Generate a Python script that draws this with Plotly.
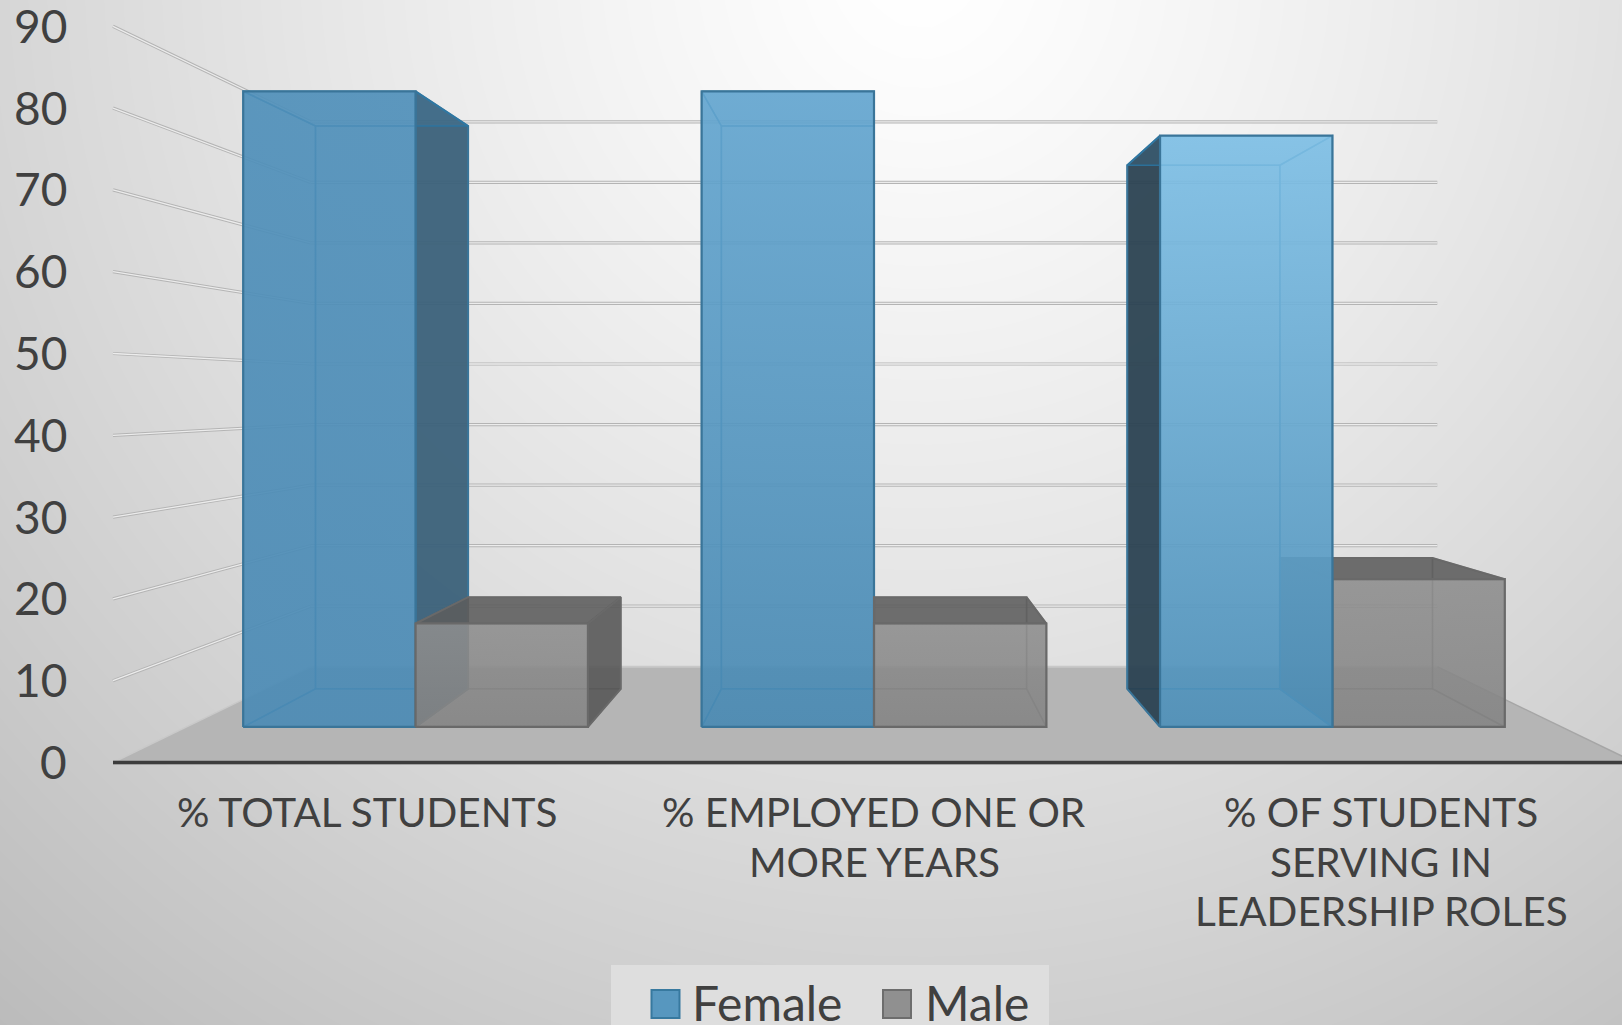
import numpy as np
import plotly.graph_objects as go

# Values
categories = [
    ["% TOTAL STUDENTS"],
    ["% EMPLOYED ONE OR", "MORE YEARS"],
    ["% OF STUDENTS", "SERVING IN", "LEADERSHIP ROLES"],
]
female = [86, 86, 80]
male = [14, 14, 20]
y_ticks = [0, 10, 20, 30, 40, 50, 60, 70, 80, 90]

# Front-top / bottom colour of each female front face (the light falls from the upper right)
female_top = ["#5090ba", "#64a6d0", "#7fc0e6"]
female_bottom = ["#4c8bb5", "#4a8ab3", "#4e90b9"]

# Perspective set-up, in page pixels
W, H = 1622, 1025
CX, HY = 874, 394
HALF = 761
ZERO = 368.5
SCALE = 8.18
DEPTH = 0.351
BAR_FRONT, BAR_BACK = 0.304, 0.712
BAR_W = 0.376 * 2 / 3
FONT = "Lato"
TEXT = "#404040"


def project(u, v, f):
    k = 1 / (1 + DEPTH * f)
    return CX + u * HALF * k, HY + (ZERO - SCALE * v) * k


def poly(points, fill=None, line=None, width=1.5, gradient=None):
    xs, ys = zip(*[project(*p) for p in points])
    kw = dict(x=list(xs) + [xs[0]], y=list(ys) + [ys[0]], mode="lines",
              hoverinfo="skip", showlegend=False, fill="toself")
    kw["line"] = dict(color=line or "rgba(0,0,0,0)", width=width if line else 0)
    if gradient:
        kw["fillgradient"] = dict(type="vertical", colorscale=[[0, gradient[0]], [1, gradient[1]]],
                                  start=min(ys), stop=max(ys))
    else:
        kw["fillcolor"] = fill or "rgba(0,0,0,0)"
    fig.add_trace(go.Scatter(**kw))


def segment(p0, p1, color, width):
    x0, y0 = project(*p0)
    x1, y1 = project(*p1)
    fig.add_trace(go.Scatter(x=[x0, x1], y=[y0, y1], mode="lines", hoverinfo="skip",
                             showlegend=False, line=dict(color=color, width=width)))


def box(u0, u1, v, st):
    f0, f1 = BAR_FRONT, BAR_BACK
    faces = {
        "back": [(u0, 0, f1), (u1, 0, f1), (u1, v, f1), (u0, v, f1)],
        "bottom": [(u0, 0, f0), (u1, 0, f0), (u1, 0, f1), (u0, 0, f1)],
        "top": [(u0, v, f0), (u1, v, f0), (u1, v, f1), (u0, v, f1)],
        "left": [(u0, 0, f0), (u0, v, f0), (u0, v, f1), (u0, 0, f1)],
        "right": [(u1, 0, f0), (u1, v, f0), (u1, v, f1), (u1, 0, f1)],
        "front": [(u0, 0, f0), (u1, 0, f0), (u1, v, f0), (u0, v, f0)],
    }
    outer_top = ZERO - SCALE * v > 0
    outer_left = u0 > 0.001
    outer_right = u1 < -0.001
    poly(faces["back"], st["inner"], st["inner_line"])
    poly(faces["bottom"], st["inner"], st["inner_line"])
    if not outer_left and abs(u0) > 0.001:
        poly(faces["left"], st["inner"], st["inner_line"])
    if not outer_right and abs(u1) > 0.001:
        poly(faces["right"], st["inner"], st["inner_line"])
    if outer_left:
        poly(faces["left"], st["left"], st["edge"], 2)
    if outer_right:
        poly(faces["right"], st["right"], st["edge"], 2)
    if outer_top:
        poly(faces["top"], st["top"], st["edge"], 2)
    else:
        poly(faces["top"], st["inner"], st["inner_line"])
    poly(faces["front"], line=st["edge"], width=2.2, gradient=st["front"])


def alpha(hex_color, a):
    r, g, b = (int(hex_color[i:i + 2], 16) for i in (1, 3, 5))
    return f"rgba({r},{g},{b},{a})"


fig = go.Figure()

# Slide background: soft radial light from the top
gx = np.linspace(0, W, 55)
gy = np.linspace(0, H, 35)
rx, ry = np.meshgrid(gx - 920, gy + 30)
shade = 255 - 48 * (np.hypot(rx, ry) / 1050) ** 1.2
fig.add_trace(go.Heatmap(x=gx, y=gy, z=shade, zmin=0, zmax=255, zsmooth="best",
                         colorscale=[[0, "#000000"], [1, "#ffffff"]],
                         showscale=False, hoverinfo="skip"))

# Floor
poly([(-1, 0, 0), (1, 0, 0), (1, 0, 1), (-1, 0, 1)], "#b5b5b5")
segment((-1, 0, 0), (-1, 0, 1), "#c9c9c9", 1.5)
segment((1, 0, 0), (1, 0, 1), "#a6a6a6", 1.5)
segment((-1, 0, 1), (1, 0, 1), "#c8c8c8", 2)

# Gridlines on the left and back walls
for t in y_ticks[1:]:
    for a_pt, b_pt in [((-1, t, 0), (-1, t, 1)), ((-1, t, 1), (1, t, 1))]:
        segment(a_pt, b_pt, "#b4b4b4", 3.2)
        segment(a_pt, b_pt, "#ececec", 1.3)

# Bars: far-from-centre series first so the nearer one sits on top
grey = dict(inner="rgba(120,120,120,0.18)", inner_line="rgba(105,105,105,0.55)",
            top="rgba(92,92,92,0.86)", left="rgba(85,85,85,0.8)", right="rgba(85,85,85,0.86)",
            edge="#696969", front=("rgba(142,142,142,0.86)", "rgba(132,132,132,0.86)"))
for i, cat in enumerate(categories):
    centre = -2 / 3 + i * 2 / 3
    blue = dict(inner="rgba(60,130,175,0.2)", inner_line="rgba(45,120,165,0.85)",
                top="rgba(60,130,175,0.8)", left="rgba(42,65,80,0.93)", right="rgba(58,96,120,0.93)",
                edge="#3a7599",
                front=(alpha(female_top[i], 0.9), alpha(female_bottom[i], 0.9)))
    if i == 2:
        box(centre, centre + BAR_W, male[i], grey)
        box(centre - BAR_W, centre, female[i], blue)
    else:
        box(centre - BAR_W, centre, female[i], blue)
        box(centre, centre + BAR_W, male[i], grey)

# Category axis line on the front edge of the floor
segment((-1, 0, 0), (1.02, 0, 0), "#8f8f8f", 4.6)
segment((-1, 0, 0), (1.02, 0, 0), "#3c3c3c", 3)

# Legend: panel, swatches, labels
fig.add_trace(go.Scatter(x=[611, 1049, 1049, 611, 611], y=[965, 965, 1030, 1030, 965], mode="lines", fill="toself",
                         fillcolor="#dedede", line=dict(width=0), hoverinfo="skip", showlegend=False))
fig.add_trace(go.Scatter(x=[665.5, 897], y=[1004, 1004], mode="markers", hoverinfo="skip", showlegend=False,
                         marker=dict(symbol="square", size=28, color=["#5797bf", "#909090"],
                                     line=dict(color=["#37799f", "#6d6d6d"], width=2))))

annotations = []
for t in y_ticks:
    annotations.append(dict(x=69, y=project(-1, t, 0)[1] - 1, text=str(t), xanchor="right", yanchor="middle",
                            font=dict(size=46)))
for i, cat in enumerate(categories):
    for n, line in enumerate(cat):
        annotations.append(dict(x=CX + (i - 1) * 507, y=811.5 + n * 49.6, text=line, xanchor="center",
                                yanchor="middle", font=dict(size=40.5)))
annotations.append(dict(x=690, y=1002, text="Female", xanchor="left", yanchor="middle", font=dict(size=48)))
annotations.append(dict(x=923, y=1002, text="Male", xanchor="left", yanchor="middle", font=dict(size=48)))
for a in annotations:
    a.update(xref="x", yref="y", showarrow=False)
    a["font"].update(family=FONT, color=TEXT)

fig.update_layout(
    width=W, height=H,
    margin=dict(l=0, r=0, t=0, b=0),
    paper_bgcolor="#ffffff", plot_bgcolor="#ffffff",
    xaxis=dict(range=[0, W], visible=False, fixedrange=True),
    yaxis=dict(range=[H, 0], visible=False, fixedrange=True),
    annotations=annotations,
    showlegend=False,
)

fig.write_html("out.html", config={"displayModeBar": False},
               post_script="document.body.style.margin='0';document.documentElement.style.overflow='hidden';")
